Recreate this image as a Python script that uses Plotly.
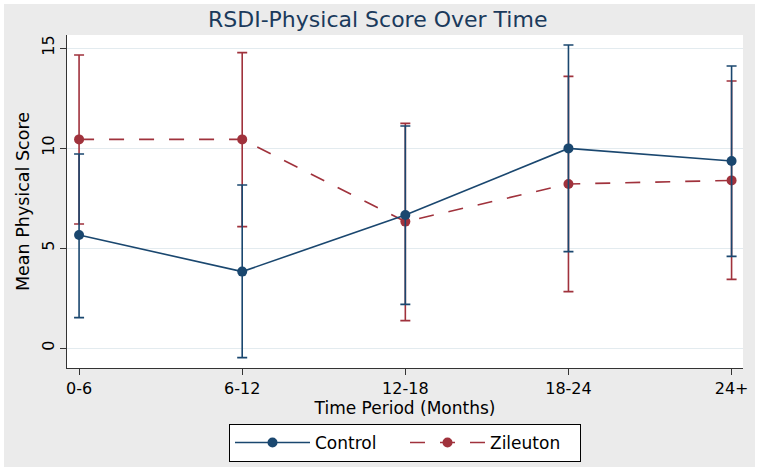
import plotly.graph_objects as go

periods = ["0-6", "6-12", "12-18", "18-24", "24+"]
control_mean = [5.65, 3.82, 6.65, 9.98, 9.35]
control_hi = [9.7, 8.15, 11.1, 15.15, 14.1]
control_lo = [1.52, -0.48, 2.18, 4.82, 4.58]
zil_mean = [10.43, 10.43, 6.32, 8.2, 8.38]
zil_hi = [14.65, 14.77, 11.23, 13.58, 13.35]
zil_lo = [6.2, 6.07, 1.37, 2.82, 3.43]

NAVY = "#1a476f"
MAROON = "#a0323c"
FONT = "DejaVu Sans, Liberation Sans, Arial, sans-serif"

x_idx = list(range(len(periods)))

def err(mean, hi, lo):
    return ([h - m for h, m in zip(hi, mean)], [m - l for m, l in zip(mean, lo)])

zp, zm = err(zil_mean, zil_hi, zil_lo)
cp, cm = err(control_mean, control_hi, control_lo)

fig = go.Figure()
fig.add_trace(go.Scatter(
    x=x_idx, y=zil_mean, name="Zileuton", mode="lines+markers",
    line=dict(color=MAROON, width=1.6, dash="longdash"),
    marker=dict(color=MAROON, size=10),
    error_y=dict(type="data", symmetric=False, array=zp, arrayminus=zm,
                 color=MAROON, thickness=1.6, width=5),
    legendrank=2,
))
fig.add_trace(go.Scatter(
    x=x_idx, y=control_mean, name="Control", mode="lines+markers",
    line=dict(color=NAVY, width=1.6),
    marker=dict(color=NAVY, size=10),
    error_y=dict(type="data", symmetric=False, array=cp, arrayminus=cm,
                 color=NAVY, thickness=1.6, width=5),
    legendrank=1,
))

L, R, T, B = 67, 743, 35, 368
W, H = 760, 472
pw, ph = R - L, B - T
def px(xp):
    return (xp - L) / pw
def py(yp):
    return (B - yp) / ph

fig.update_layout(
    width=W, height=H,
    margin=dict(l=L, r=W - R, t=T, b=H - B, autoexpand=False),
    paper_bgcolor="white",
    plot_bgcolor="white",
    font=dict(family=FONT, size=16, color="black"),
    title=dict(text="RSDI-Physical Score Over Time", x=0.497, xanchor="center",
               y=1 - 19 / H, yanchor="middle",
               font=dict(size=22, color="#1a3a5c")),
    shapes=[
        dict(type="rect", xref="paper", yref="paper", layer="below",
             x0=px(4), x1=px(755), y0=py(467), y1=py(4),
             fillcolor="#ebebeb", line=dict(width=0)),
        dict(type="rect", xref="paper", yref="paper", layer="below",
             x0=0, x1=1, y0=0, y1=1,
             fillcolor="white", line=dict(width=0)),
    ],
    xaxis=dict(
        range=[-0.074, 4.07],
        tickmode="array", tickvals=x_idx, ticktext=periods,
        ticks="outside", ticklen=6, tickcolor="#333333",
        showline=True, linecolor="#333333", linewidth=1,
        showgrid=False, zeroline=False,
        title=dict(text="Time Period (Months)", standoff=0, font=dict(size=17)),
        tickfont=dict(size=16),
    ),
    yaxis=dict(
        range=[-1.0, 15.65],
        tickvals=[0, 5, 10, 15],
        tickangle=-90,
        ticks="outside", ticklen=6, tickcolor="#333333",
        showline=True, linecolor="#333333", linewidth=1,
        showgrid=True, gridcolor="#e3ebef", gridwidth=1,
        zeroline=False,
        title=dict(text="Mean Physical Score", standoff=4, font=dict(size=17.5)),
        tickfont=dict(size=16),
    ),
    legend=dict(
        orientation="h", x=0.5, xanchor="center", y=py(424), yanchor="top",
        bgcolor="white", bordercolor="black", borderwidth=1,
        font=dict(size=17), entrywidth=85, entrywidthmode="pixels",
        itemwidth=75,
    ),
    showlegend=True,
)

fig.write_html("out.html", config={"displayModeBar": False},
               post_script="document.body.style.margin='0';")
